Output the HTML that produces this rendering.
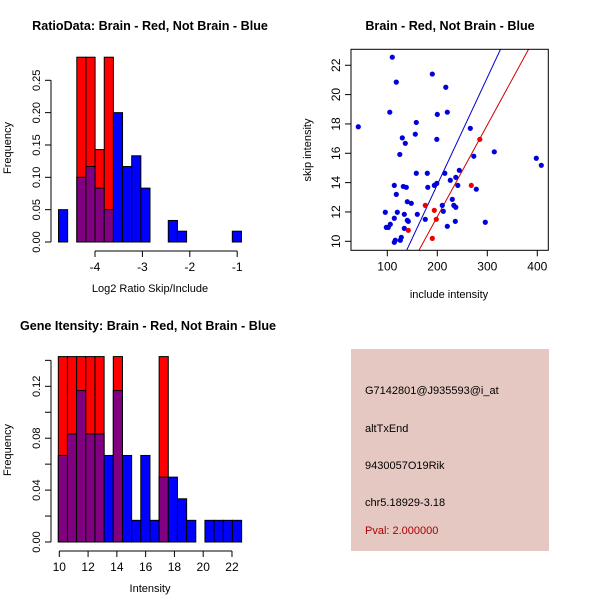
<!DOCTYPE html>
<html><head><meta charset="utf-8"><style>
body{margin:0;background:#fff;}
svg{display:block;font-family:"Liberation Sans",sans-serif;}
</style></head><body>
<svg id="c" width="600" height="600" viewBox="0 0 600 600"></svg>
<script>
// Panel 1: ratio histogram
const ratioStart = -4.77, ratioWidth = 0.193;
const ratioBlue = [0.05,0,0.10,0.1167,0.0833,0.05,0.20,0.1167,0.1333,0.0833,0,0,0.0333,0.0167,0,0,0,0,0,0.0167];
const ratioRed  = [0,0,0.2857,0.2857,0.1429,0.2857,0,0,0,0,0,0,0,0,0,0,0,0,0,0];
const ratioXTicks = [-4,-3,-2,-1];
const ratioYTicks = [0,0.05,0.10,0.15,0.20,0.25];
const ratioYLabels = ["0.00","0.05","0.10","0.15","0.20","0.25"];
// Panel 3: intensity histogram
const intStart = 9.93, intWidth = 0.637;
const intBlue = [0.0667,0.0833,0.1167,0.0833,0.0833,0.0667,0.1167,0.0667,0.0167,0.0667,0.0167,0.05,0.05,0.0333,0.0167,0,0.0167,0.0167,0.0167,0.0167];
const intRed  = [0.1429,0.1429,0.1429,0.1429,0.1429,0,0.1429,0,0,0,0,0.1429,0,0,0,0,0,0,0,0];
const intXTicks = [10,12,14,16,18,20,22];
const intYTicks = [0,0.02,0.04,0.06,0.08,0.10,0.12,0.14];
const intYLabels = ["0.00","","0.04","","0.08","","0.12",""];
// Panel 2: scatter
const blueInc = [42,110,118,105,190,217,220,200,158,156,130,136,125,199,266,314,273,398,408,158,180,215,244,237,226,241,278,181,194,199,114,132,138,118,140,148,230,210,212,233,237,96,120,134,160,114,140,142,176,236,296,106,98,102,134,220,128,126,116,114];
const blueSkip = [17.81,22.55,20.85,18.8,21.4,20.5,18.8,18.65,18.1,17.3,17.05,16.68,15.92,16.95,17.7,16.1,15.8,15.66,15.18,14.64,14.64,14.64,14.84,14.36,14.16,13.81,13.55,13.68,13.81,13.95,13.81,13.74,13.68,13.2,12.7,12.59,12.86,12.45,12.05,12.45,12.32,11.98,11.98,11.84,11.84,11.57,11.43,11.36,11.5,11.36,11.3,11.16,10.95,10.95,10.88,11.02,10.27,10.07,10.07,9.93];
const redInc = [285,268,176,194,198,142,190];
const redSkip = [16.95,13.81,12.45,12.11,11.5,10.75,10.2];
const blueFit = [-0.74,0.0730];
const redFit = [-0.82,0.0625];
const scXTicks = [100,200,300,400];
const scYTicks = [10,12,14,16,18,20,22];

const NS="http://www.w3.org/2000/svg", svg=document.getElementById('c');
function mk(tag,attrs,parent){const e=document.createElementNS(NS,tag);for(const k in attrs)e.setAttribute(k,attrs[k]);(parent||svg).appendChild(e);return e;}
function txt(s,x,y,attrs,parent){const e=mk('text',Object.assign({x:x,y:y},attrs),parent);e.textContent=s;return e;}

function hist(name,g,start,w,blue,red,sx,sy,xt,xl,yt,yl,xlab,title,titleX,freqY){
  for(let i=0;i<blue.length;i++){
    const x0=sx(start+i*w),x1=sx(start+(i+1)*w);
    if(red[i]>0){const r=mk('rect',{x:x0,y:sy(red[i]),width:x1-x0,height:sy(0)-sy(red[i]),fill:'#ff0000',stroke:'#000','stroke-width':1},g);
      }
    if(blue[i]>0){const b=mk('rect',{x:x0,y:sy(blue[i]),width:x1-x0,height:sy(0)-sy(blue[i]),fill:red[i]>0?'#800080':'#0000ff',stroke:'#000','stroke-width':1},g);
      }
  }
  const xa=mk('g',{},g);
  const yb=sy(0)+9;
  mk('line',{x1:sx(xt[0]),x2:sx(xt[xt.length-1]),y1:yb,y2:yb,stroke:'#000'},xa);
  xt.forEach((v,i)=>{mk('line',{x1:sx(v),x2:sx(v),y1:yb,y2:yb+6,stroke:'#000'},xa);txt(xl[i],sx(v),yb+20,{'text-anchor':'middle','font-size':12},xa);});
  const ya=mk('g',{},g);
  const xb=51;
  mk('line',{x1:xb,x2:xb,y1:sy(yt[0]),y2:sy(yt[yt.length-1]),stroke:'#000'},ya);
  yt.forEach((v,i)=>{mk('line',{x1:xb-6,x2:xb,y1:sy(v),y2:sy(v),stroke:'#000'},ya);if(yl[i])txt(yl[i],xb-11,sy(v),{'text-anchor':'middle','font-size':11,transform:`rotate(-90 ${xb-11} ${sy(v)})`},ya);});
  const yt2=txt('Frequency',11,freqY,{'text-anchor':'middle','font-size':11},g);
  yt2.setAttribute('transform',`rotate(-90 11 ${freqY})`);
  
  const xt2=txt(xlab,150,yb+41,{'text-anchor':'middle','font-size':11},g);
  
  const tt=txt(title,titleX,30,{'text-anchor':'middle','font-size':12.6,'font-weight':'bold'},g);
  
}
// panel 1
const g1=mk('g',{});
hist('ratio',g1,ratioStart,ratioWidth,ratioBlue,ratioRed,v=>95+(v+4)*47.4,v=>242-v*646.8,ratioXTicks,["-4","-3","-2","-1"],ratioYTicks,ratioYLabels,'Log2 Ratio Skip/Include','RatioData: Brain - Red, Not Brain - Blue',150,148);
// panel 3
const g3=mk('g',{transform:'translate(0,300)'});
hist('intensity',g3,intStart,intWidth,intBlue,intRed,v=>59.3+(v-10)*14.39,v=>242-v*1297.5,intXTicks,intXTicks.map(String),intYTicks,intYLabels,'Intensity','Gene Itensity: Brain - Red, Not Brain - Blue',148,150);

// panel 2 scatter
const g2=mk('g',{});
const px=v=>387.3+(v-100)*0.5, py=v=>241.3-(v-10)*14.67;
const L=351,R=548.3,T=49.3,B=250.3;
const cp=mk('clipPath',{id:'clp'},g2);mk('rect',{x:L,y:T,width:R-L,height:B-T},cp);
[[blueFit,'#0000cc'],[redFit,'#cc0000']].forEach(([f,c],k)=>{
  const x0=100,x1=450;
  const l=mk('line',{x1:px(x0),y1:py(f[0]+f[1]*x0),x2:px(x1),y2:py(f[0]+f[1]*x1),stroke:c,'stroke-width':1,'clip-path':'url(#clp)'},g2);
  
});
blueInc.forEach((v,i)=>{const c=mk('circle',{cx:px(v),cy:py(blueSkip[i]),r:2.6,fill:'#0000dd'},g2);
  });
redInc.forEach((v,i)=>{const c=mk('circle',{cx:px(v),cy:py(redSkip[i]),r:2.6,fill:'#ee0000'},g2);
  });
const bx=mk('rect',{x:L,y:T,width:R-L,height:B-T,fill:'none',stroke:'#000'},g2);

const sxa=mk('g',{},g2);
scXTicks.forEach(v=>{mk('line',{x1:px(v),x2:px(v),y1:B,y2:B+6,stroke:'#000'},sxa);txt(String(v),px(v),B+20,{'text-anchor':'middle','font-size':12},sxa);});
const sya=mk('g',{},g2);
scYTicks.forEach(v=>{mk('line',{x1:L-6,x2:L,y1:py(v),y2:py(v),stroke:'#000'},sya);txt(String(v),L-11,py(v),{'text-anchor':'middle','font-size':12,transform:`rotate(-90 ${L-11} ${py(v)})`},sya);});
const st=txt('Brain - Red, Not Brain - Blue',450,30,{'text-anchor':'middle','font-size':12.6,'font-weight':'bold'},g2);

const sxt=txt('include intensity',449,298,{'text-anchor':'middle','font-size':11},g2);

const syt=txt('skip intensity',311,150,{'text-anchor':'middle','font-size':11,transform:'rotate(-90 311 150)'},g2);

</script>
<div style="position:absolute;left:351px;top:349px;width:198px;height:202px;background:#e6c8c2;font-family:'Liberation Sans',sans-serif;font-size:11px;">
<div style="position:absolute;left:14px;top:36px;">G7142801@J935593@i_at</div>
<div style="position:absolute;left:14px;top:74px;">altTxEnd</div>
<div style="position:absolute;left:14px;top:111px;">9430057O19Rik</div>
<div style="position:absolute;left:14px;top:148px;">chr5.18929-3.18</div>
<div style="position:absolute;left:14px;top:176px;color:#aa0000;">Pval: 2.000000</div>
</div>
</body></html>
